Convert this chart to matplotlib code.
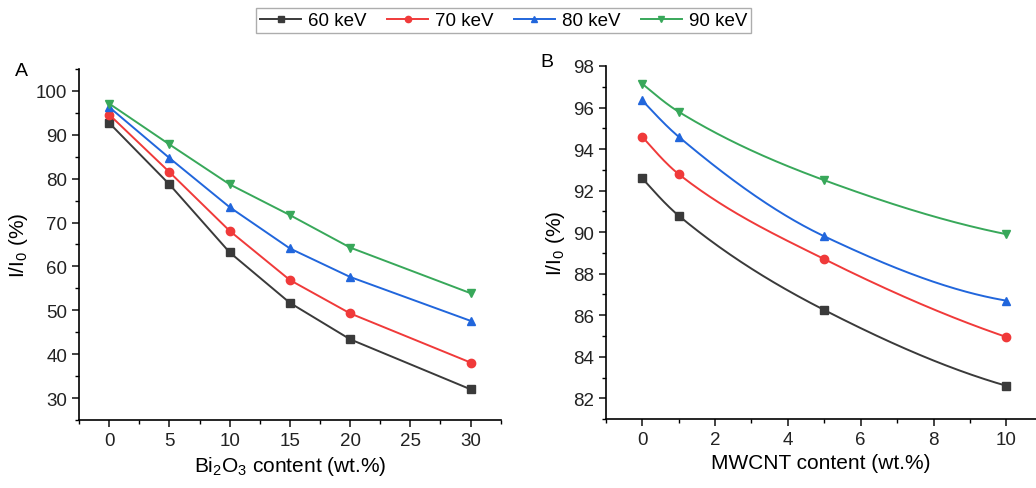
import matplotlib.pyplot as plt
import numpy as np

plt.rcParams['font.family'] = ['Liberation Sans', 'DejaVu Sans']
plt.rcParams['mathtext.fontset'] = 'custom'
plt.rcParams['mathtext.rm'] = 'Liberation Sans'
plt.rcParams['mathtext.it'] = 'Liberation Sans:italic'
plt.rcParams['mathtext.default'] = 'regular'

energies = ['60 keV', '70 keV', '80 keV', '90 keV']
colors = ['#3a3a3a', '#f03a3a', '#2166dc', '#38a85a']
markers = ['s', 'o', '^', 'v']

# panel A: Bi2O3 content
bi_x = [0, 5, 10, 15, 20, 30]
bi_60 = [92.7, 78.7, 63.2, 51.7, 43.4, 32.0]
bi_70 = [94.6, 81.5, 68.1, 56.9, 49.3, 38.1]
bi_80 = [96.3, 84.7, 73.5, 64.1, 57.6, 47.6]
bi_90 = [97.1, 87.8, 78.7, 71.7, 64.3, 53.9]

# panel B: MWCNT content
cnt_x = [0, 1, 5, 10]
cnt_60 = [92.6, 90.8, 86.25, 82.6]
cnt_70 = [94.6, 92.8, 88.7, 84.95]
cnt_80 = [96.35, 94.6, 89.8, 86.7]
cnt_90 = [97.15, 95.8, 92.5, 89.9]


def pchip(x, y, xs):
    # monotone cubic, only used to draw a smooth line through the points
    x = np.asarray(x, float); y = np.asarray(y, float)
    h = np.diff(x); d = np.diff(y) / h
    m = np.zeros_like(y)
    for k in range(1, len(x) - 1):
        if d[k-1] * d[k] > 0:
            w1 = 2*h[k] + h[k-1]; w2 = h[k] + 2*h[k-1]
            m[k] = (w1 + w2) / (w1/d[k-1] + w2/d[k])
    m[0] = ((2*h[0] + h[1])*d[0] - h[0]*d[1]) / (h[0] + h[1])
    if np.sign(m[0]) != np.sign(d[0]):
        m[0] = 0
    m[-1] = ((2*h[-1] + h[-2])*d[-1] - h[-1]*d[-2]) / (h[-1] + h[-2])
    if np.sign(m[-1]) != np.sign(d[-1]):
        m[-1] = 0
    i = np.clip(np.searchsorted(x, xs) - 1, 0, len(x) - 2)
    t = (xs - x[i]) / h[i]
    h00 = 2*t**3 - 3*t**2 + 1; h10 = t**3 - 2*t**2 + t
    h01 = -2*t**3 + 3*t**2; h11 = t**3 - t**2
    return h00*y[i] + h10*h[i]*m[i] + h01*y[i+1] + h11*h[i]*m[i+1]


fig = plt.figure(figsize=(10.36, 4.89), dpi=100)
axA = fig.add_axes([0.0763, 0.139, 0.407, 0.718])
axB = fig.add_axes([0.5846, 0.141, 0.415, 0.722])

handles = []
for ys, c, mk, lab in zip([bi_60, bi_70, bi_80, bi_90], colors, markers, energies):
    h, = axA.plot(bi_x, ys, color=c, marker=mk, markersize=6, linewidth=1.4, label=lab)
    handles.append(h)

for ys, c, mk in zip([cnt_60, cnt_70, cnt_80, cnt_90], colors, markers):
    xs = np.linspace(cnt_x[0], cnt_x[-1], 200)
    axB.plot(xs, pchip(cnt_x, ys, xs), color=c, linewidth=1.4)
    axB.plot(cnt_x, ys, color=c, marker=mk, markersize=6, linestyle='none')

axA.set_xlim(-2.5, 32.5)
axA.set_ylim(25, 105)
axA.set_xticks([0, 5, 10, 15, 20, 25, 30])
axA.set_xticks(np.arange(-2.5, 33, 2.5), minor=True)
axA.set_yticks([30, 40, 50, 60, 70, 80, 90, 100])
axA.set_yticks(np.arange(25, 106, 5), minor=True)
axA.set_xlabel('Bi$_2$O$_3$ content (wt.%)', fontsize=15)
axA.set_ylabel('I/I$_0$ (%)', fontsize=15)

axB.set_xlim(-1, 10.8)
axB.set_ylim(81, 98)
axB.set_xticks([0, 2, 4, 6, 8, 10])
axB.set_xticks(np.arange(-1, 11, 1), minor=True)
axB.set_yticks(np.arange(82, 99, 2))
axB.set_yticks(np.arange(81, 98.5, 1), minor=True)
axB.set_xlabel('MWCNT content (wt.%)', fontsize=15)
axB.set_ylabel('I/I$_0$ (%)', fontsize=15)

for ax in (axA, axB):
    ax.spines['top'].set_visible(False)
    ax.spines['right'].set_visible(False)
    ax.spines['left'].set_linewidth(1.2)
    ax.spines['bottom'].set_linewidth(1.2)
    ax.tick_params(which='major', direction='out', length=5, width=1.2, labelsize=13.5, colors='#222222')
    ax.tick_params(which='minor', direction='out', length=3, width=1.0)

fig.text(0.014, 0.845, 'A', fontsize=14)
fig.text(0.522, 0.862, 'B', fontsize=14)

leg = fig.legend(handles=handles, loc='upper center', bbox_to_anchor=(0.486, 1.0), ncol=4,
                 fontsize=13.5, frameon=True, fancybox=False, edgecolor='#999999',
                 handlelength=2.2, columnspacing=1.1, borderpad=0.2, handletextpad=0.35,
                 markerscale=0.75)

fig.savefig('out.png', dpi=100)
